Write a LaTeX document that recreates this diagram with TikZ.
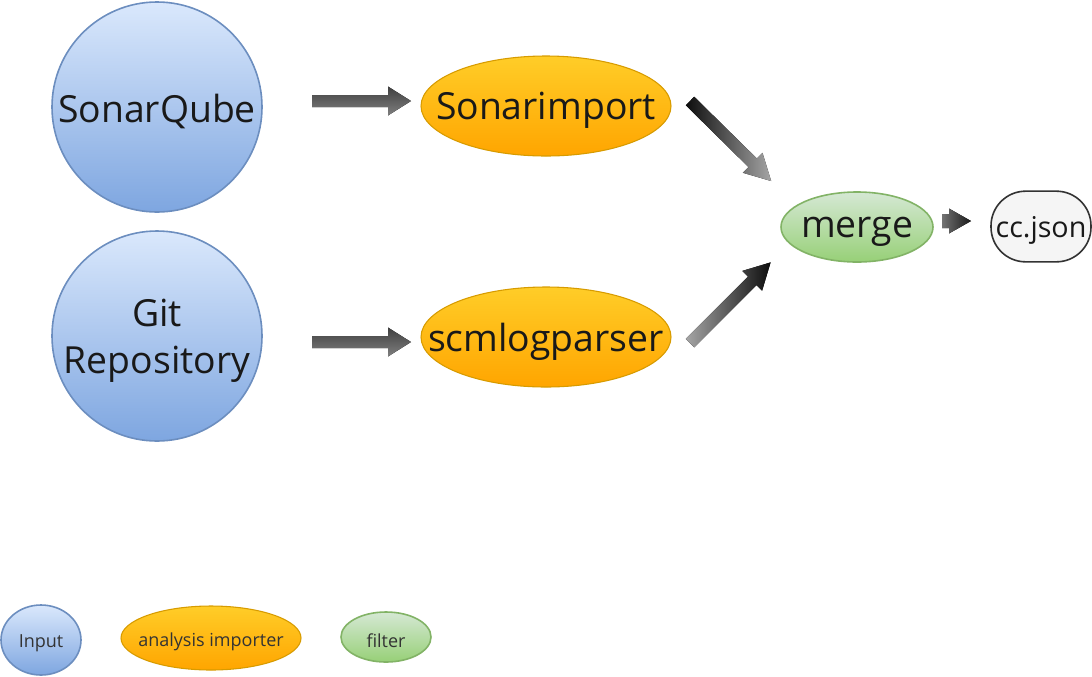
\documentclass[tikz,border=0pt]{standalone}
\usepackage{fontspec}
\setmainfont{Open Sans}
\usetikzlibrary{shapes.geometric}
\usetikzlibrary{calc}

\definecolor{inputtop}{HTML}{DAE8FC}
\definecolor{inputbot}{HTML}{7EA6E0}
\definecolor{inputline}{HTML}{6C8EBF}
\definecolor{imptop}{HTML}{FFCD28}
\definecolor{impbot}{HTML}{FFA500}
\definecolor{impline}{HTML}{D79B00}
\definecolor{filtop}{HTML}{D5E8D4}
\definecolor{filbot}{HTML}{97D077}
\definecolor{filline}{HTML}{82B366}
\definecolor{outfill}{HTML}{F5F5F5}
\definecolor{outline}{HTML}{333333}

\tikzset{
  inputnode/.style={ellipse, draw=inputline, line width=1.2pt, top color=inputtop, bottom color=inputbot, inner sep=0pt},
  importnode/.style={ellipse, draw=impline, line width=0.8pt, top color=imptop, bottom color=impbot, inner sep=0pt},
  filternode/.style={ellipse, draw=filline, line width=1.2pt, top color=filtop, bottom color=filbot, inner sep=0pt},
  outnode/.style={rectangle, rounded corners=26pt, draw=outline, line width=1.2pt, fill=outfill, inner sep=0pt},
  bigtext/.style={font=\fontsize{28}{35}\selectfont, align=center, yshift=-3.5pt, text=black!90},
  smalltext/.style={font=\fontsize{13.5}{16}\selectfont, yshift=-2.5pt, text=black!80},
}

% block arrow: length, head length, shaft half width, head half width
\newcommand{\blockarrow}[4]{%
  (0,-#3) -- ({#1-#2},-#3) -- ({#1-#2},-#4) -- (#1,0) -- ({#1-#2},#4) -- ({#1-#2},#3) -- (0,#3) -- cycle}

\begin{document}
\begin{tikzpicture}[x=0.75pt,y=-0.75pt]
  \useasboundingbox (0,0) rectangle (1092,676);

  % inputs
  \node[inputnode, minimum width=157.5pt, minimum height=157.5pt, label={[bigtext]center:SonarQube}] (sonar) at (157,107) {};
  \node[inputnode, minimum width=157.5pt, minimum height=157.5pt, label={[bigtext]center:Git\\Repository}] (git) at (157,336) {};

  % importers
  \node[importnode, minimum width=187.5pt, minimum height=75pt, label={[bigtext]center:Sonarimport}] (sonarimp) at (546,106) {};
  \node[importnode, minimum width=187.5pt, minimum height=75pt, label={[bigtext]center:scmlogparser}] (scmlog) at (546,337) {};

  % filter and output
  \node[filternode, minimum width=114pt, minimum height=52.5pt, label={[bigtext]center:merge}] (merge) at (857,227) {};
  \node[outnode, minimum width=75pt, minimum height=53pt, label={[font=\fontsize{21.5}{26}\selectfont, yshift=-3pt, text=black!90]center:cc.json}] (ccjson) at (1041,226.5) {};

  % arrows
  \begin{scope}[shift={(312,101)}]
    \fill[top color=black!75, bottom color=black!50] \blockarrow{99}{23}{6}{14.5};
  \end{scope}
  \begin{scope}[shift={(312,342)}]
    \fill[top color=black!75, bottom color=black!50] \blockarrow{99}{23}{6}{14.5};
  \end{scope}
  \begin{scope}[shift={(690,101)}, rotate=-44.6]
    \fill[left color=black!95, right color=black!35] \blockarrow{114}{26}{6}{14};
  \end{scope}
  \begin{scope}[shift={(690,343)}, rotate=45]
    \fill[left color=black!35, right color=black!95] \blockarrow{114}{26}{6}{14};
  \end{scope}
  \begin{scope}[shift={(942,221)}]
    \fill[left color=black!55, right color=black!90] \blockarrow{29}{22}{7}{12.5};
  \end{scope}

  % legend
  \node[inputnode, minimum width=60pt, minimum height=52.5pt, label={[smalltext]center:Input}] (leginput) at (41,640) {};
  \node[importnode, minimum width=135pt, minimum height=48pt, label={[smalltext]center:analysis importer}] (legimp) at (211,638) {};
  \node[filternode, minimum width=67.5pt, minimum height=37.5pt, label={[smalltext]center:filter}] (legfil) at (386,637) {};
\end{tikzpicture}
\end{document}
